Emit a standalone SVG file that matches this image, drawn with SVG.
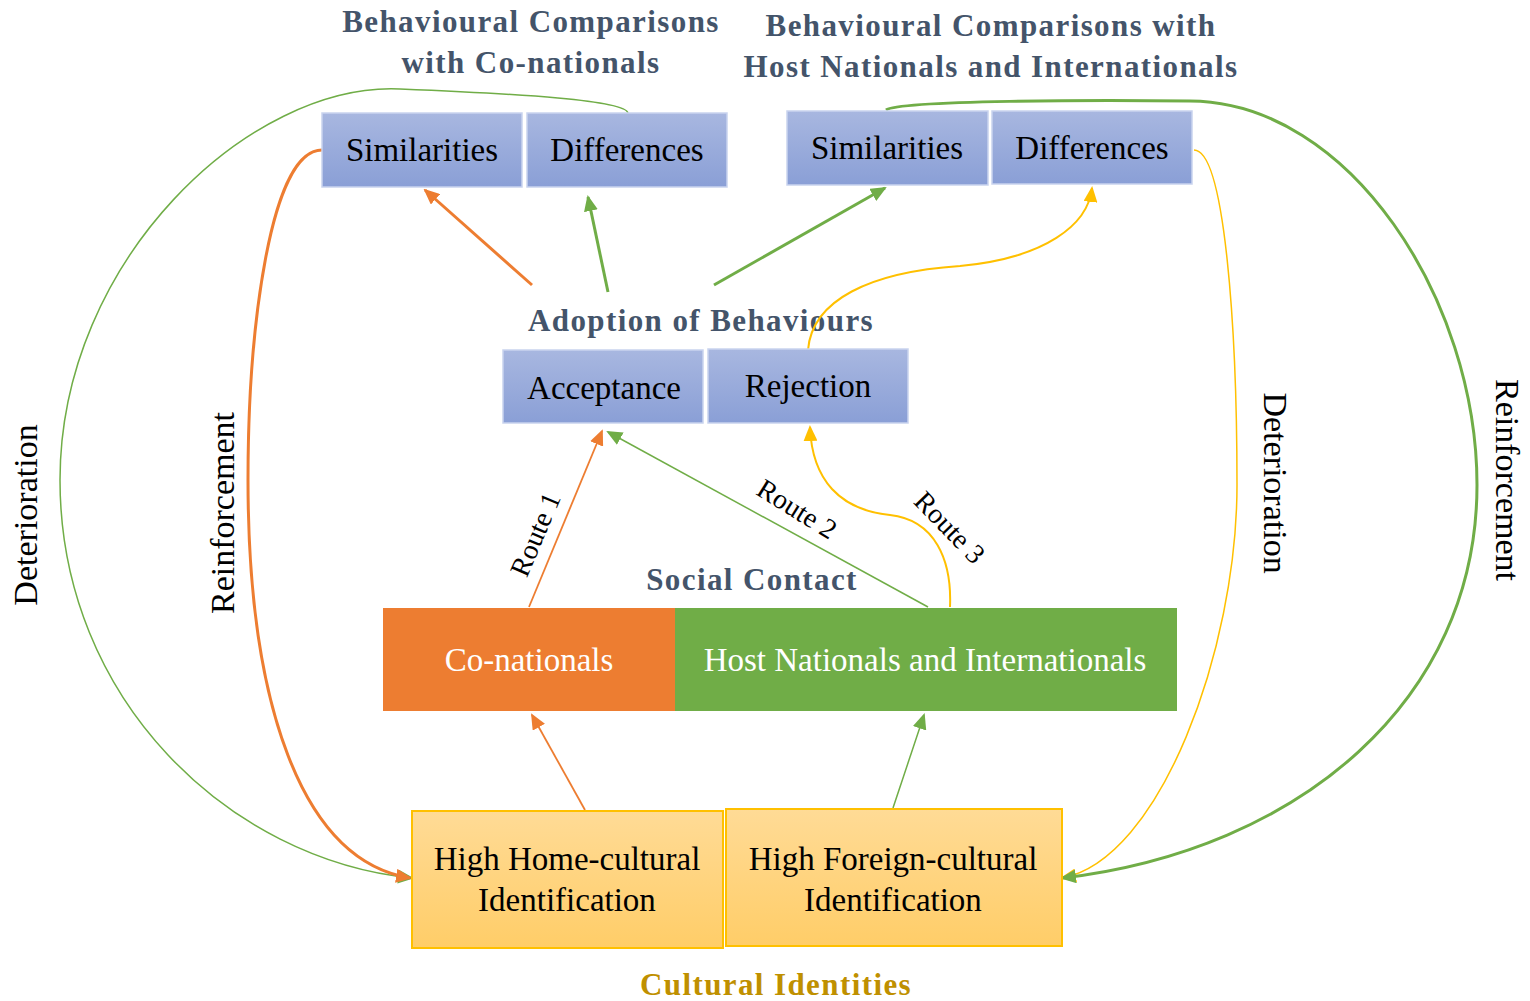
<svg xmlns="http://www.w3.org/2000/svg" width="1530" height="1001" viewBox="0 0 1530 1001">
<style>
.title{font-family:"Liberation Serif",serif;font-weight:bold;font-size:31px;letter-spacing:1.4px;fill:#44546a;text-anchor:middle}
.box{font-family:"Liberation Serif",serif;font-size:33px;fill:#000;text-anchor:middle}
.wbox{font-family:"Liberation Serif",serif;font-size:33px;fill:#fff;text-anchor:middle}
.lbl{font-family:"Liberation Serif",serif;font-size:34px;fill:#000;text-anchor:middle}
.rt{font-family:"Liberation Serif",serif;font-size:28px;fill:#000;text-anchor:middle}
.blue{fill:url(#gb);stroke:#c9d3ee;stroke-width:1.5}
.gold{fill:url(#gy);stroke:#ffc000;stroke-width:2}
.c{fill:none}
</style>
<defs>
<linearGradient id="gb" x1="0" y1="0" x2="0" y2="1"><stop offset="0" stop-color="#a8b7e0"/><stop offset="1" stop-color="#8a9fd6"/></linearGradient>
<linearGradient id="gy" x1="0" y1="0" x2="0" y2="1"><stop offset="0" stop-color="#ffdb96"/><stop offset="1" stop-color="#ffcd68"/></linearGradient>
<marker id="ao" markerUnits="userSpaceOnUse" markerWidth="16" markerHeight="14" refX="14" refY="7" orient="auto"><path d="M0,0 L16,7 L0,14 z" fill="#ed7d31"/></marker>
<marker id="ag" markerUnits="userSpaceOnUse" markerWidth="16" markerHeight="14" refX="14" refY="7" orient="auto"><path d="M0,0 L16,7 L0,14 z" fill="#70ad47"/></marker>
<marker id="ay" markerUnits="userSpaceOnUse" markerWidth="16" markerHeight="14" refX="14" refY="7" orient="auto"><path d="M0,0 L16,7 L0,14 z" fill="#ffc000"/></marker>
</defs>

<g id="titles">
<text class="title" x="531" y="32">Behavioural Comparisons</text>
<text class="title" x="531" y="73">with Co-nationals</text>
<text class="title" x="991" y="36">Behavioural Comparisons with</text>
<text class="title" x="991" y="77">Host Nationals and Internationals</text>
<text class="title" x="701" y="331">Adoption of Behaviours</text>
<text class="title" x="752" y="590">Social Contact</text>
<text class="title" x="776" y="995" style="fill:#bf9000">Cultural Identities</text>
</g>

<g id="connectors">
<path class="c" d="M532,285 L425,190" stroke="#ed7d31" stroke-width="3" marker-end="url(#ao)"/>
<path class="c" d="M608,292 L588,197" stroke="#70ad47" stroke-width="3" marker-end="url(#ag)"/>
<path class="c" d="M714,285 L885,188" stroke="#70ad47" stroke-width="3" marker-end="url(#ag)"/>
<path class="c" d="M808,350 C812,300 870,272 960,266 C1045,258 1088,225 1092,188" stroke="#ffc000" stroke-width="2" marker-end="url(#ay)"/>
<path class="c" d="M529,607 L602,431" stroke="#ed7d31" stroke-width="1.8" marker-end="url(#ao)"/>
<path class="c" d="M928,607 L608,432" stroke="#70ad47" stroke-width="1.5" marker-end="url(#ag)"/>
<path class="c" d="M950,607 C952,560 935,520 890,515 C840,510 812,480 810,427" stroke="#ffc000" stroke-width="2" marker-end="url(#ay)"/>
<path class="c" d="M585,810 L532,715" stroke="#ed7d31" stroke-width="1.8" marker-end="url(#ao)"/>
<path class="c" d="M893,808 L924,715" stroke="#70ad47" stroke-width="1.5" marker-end="url(#ag)"/>
<path class="c" d="M628,113 C625,100 520,94 400,89 C250,82 60,260 60,480 C60,700 230,860 412,878" stroke="#70ad47" stroke-width="1.5" marker-end="url(#ag)"/>
<path class="c" d="M322,150 C270,150 248,330 248,480 C248,700 300,860 410,878" stroke="#ed7d31" stroke-width="3" marker-end="url(#ao)"/>
<path class="c" d="M1194,150 C1225,150 1237,330 1237,485 C1237,650 1160,860 1062,878" stroke="#ffc000" stroke-width="1.5" marker-end="url(#ay)"/>
<path class="c" d="M886,110 C900,100 1100,100 1190,101 C1350,102 1477,300 1477,485 C1477,700 1300,850 1062,878" stroke="#70ad47" stroke-width="3" marker-end="url(#ag)"/>
</g>

<g id="connector-labels">
<text class="lbl" transform="translate(37,515) rotate(-90)">Deterioration</text>
<text class="lbl" transform="translate(234,513) rotate(-90)">Reinforcement</text>
<text class="lbl" transform="translate(1264,483) rotate(90)">Deterioration</text>
<text class="lbl" transform="translate(1496,480) rotate(90)">Reinforcement</text>
<text class="rt" transform="translate(544,538) rotate(-67)">Route 1</text>
<text class="rt" transform="translate(792,517) rotate(32)">Route 2</text>
<text class="rt" transform="translate(943,534) rotate(46)">Route 3</text>
</g>

<g id="node-sim-co"><rect class="blue" x="322" y="113" width="200" height="74"/><text class="box" x="422" y="161">Similarities</text></g>
<g id="node-diff-co"><rect class="blue" x="527" y="113" width="200" height="74"/><text class="box" x="627" y="161">Differences</text></g>
<g id="node-sim-host"><rect class="blue" x="787" y="111" width="201" height="74"/><text class="box" x="887" y="159">Similarities</text></g>
<g id="node-diff-host"><rect class="blue" x="992" y="111" width="200" height="73"/><text class="box" x="1092" y="159">Differences</text></g>
<g id="node-acceptance"><rect class="blue" x="503" y="350" width="200" height="73"/><text class="box" x="604" y="399">Acceptance</text></g>
<g id="node-rejection"><rect class="blue" x="708" y="349" width="200" height="74"/><text class="box" x="808" y="397">Rejection</text></g>
<g id="node-conationals"><rect x="383" y="608" width="292" height="103" fill="#ed7d31"/><text class="wbox" x="529" y="671">Co-nationals</text></g>
<g id="node-host"><rect x="675" y="608" width="502" height="103" fill="#70ad47"/><text class="wbox" x="925" y="671">Host Nationals and Internationals</text></g>
<g id="node-home"><rect class="gold" x="412" y="811" width="311" height="137"/><text class="box" x="567" y="870">High Home-cultural</text><text class="box" x="567" y="911">Identification</text></g>
<g id="node-foreign"><rect class="gold" x="726" y="809" width="336" height="137"/><text class="box" x="893" y="870">High Foreign-cultural</text><text class="box" x="893" y="911">Identification</text></g>
</svg>
